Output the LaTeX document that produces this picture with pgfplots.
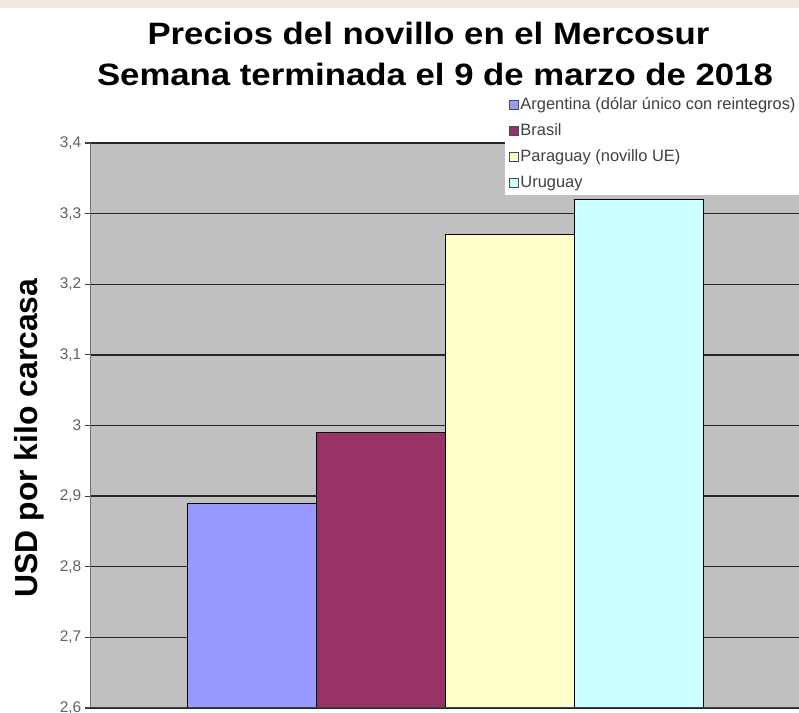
\documentclass[border=0pt]{standalone}
\usepackage{graphicx}
\usepackage{pgfplots}
\pgfplotsset{compat=1.18}
\usepackage{fontspec}
\setmainfont{Liberation Sans}
\definecolor{argc}{HTML}{9999FF}
\definecolor{brac}{HTML}{993366}
\definecolor{parc}{HTML}{FFFFCC}
\definecolor{uruc}{HTML}{CCFFFF}
\definecolor{plotbg}{HTML}{C0C0C0}
\definecolor{strip}{HTML}{EFE9DF}
\begin{document}
\begin{tikzpicture}[x=1bp,y=1bp]
\useasboundingbox (0,0) rectangle (799,713);
\clip (0,0) rectangle (799,713);
\fill[strip] (0,705) rectangle (799,713);
\node[font=\bfseries\fontsize{31}{36}\selectfont, anchor=base] at (428.5,668) {\scalebox{1.125}[1]{Precios del novillo en el Mercosur}};
\node[font=\bfseries\fontsize{31}{36}\selectfont, anchor=base] at (435,627) {\scalebox{1.125}[1]{Semana terminada el 9 de marzo de 2018}};
\node[font=\bfseries\fontsize{32}{38}\selectfont, rotate=90, anchor=base] at (37,275) {USD por kilo carcasa};
\begin{axis}[
  at={(90bp,5bp)}, anchor=south west, scale only axis,
  width=713bp, height=565bp,
  xmin=-0.256, xmax=5.271, ymin=2.6, ymax=3.4,
  ytick={2.6,2.7,2.8,2.9,3.0,3.1,3.2,3.3,3.4},
  xtick=\empty,
  ymajorgrids,
  grid style={black!85, line width=1.3bp},
  axis line style={draw=none},
  tick align=outside, major tick length=5bp,
  ytick style={black!75, line width=1.2bp},
  /pgf/number format/assume math mode=true,
  yticklabel style={/pgf/number format/.cd, fixed, precision=1, use comma, /tikz/.cd, font=\fontsize{15.5}{18}\selectfont, text=black!62, inner sep=3.5bp},
  axis background/.style={fill=plotbg},
  ybar, bar width=1, bar shift=0pt,
  legend image code/.code={\draw[#1, draw=black!70, line width=0.8bp] (0bp,-4.5bp) rectangle (9bp,4.5bp);},
  legend cell align=left,
  legend style={at={(axis description cs:0.582,1.089)}, anchor=north west, draw=none, fill=white,
    font=\fontsize{16.5}{19}\selectfont, text=black!75, inner xsep=4bp, inner ysep=3bp, row sep=7.5bp,
    nodes={inner sep=1.5bp, text height=12bp, text depth=3.5bp}},
]
\addplot[fill=argc, draw=black, line width=1.2bp] coordinates {(1,2.89)};
\addlegendentry{Argentina (dólar único con reintegros)}
\addplot[fill=brac, draw=black, line width=1.2bp] coordinates {(2,2.99)};
\addlegendentry{Brasil}
\addplot[fill=parc, draw=black, line width=1.2bp] coordinates {(3,3.27)};
\addlegendentry{Paraguay (novillo UE)}
\addplot[fill=uruc, draw=black, line width=1.2bp] coordinates {(4,3.32)};
\addlegendentry{Uruguay}
\draw[black!55, line width=2bp] (axis description cs:0,0) -- (axis description cs:0,1);
\draw[black!75, line width=1.3bp] (axis description cs:0,0) -- (axis description cs:1,0);
\end{axis}
\end{tikzpicture}
\end{document}
